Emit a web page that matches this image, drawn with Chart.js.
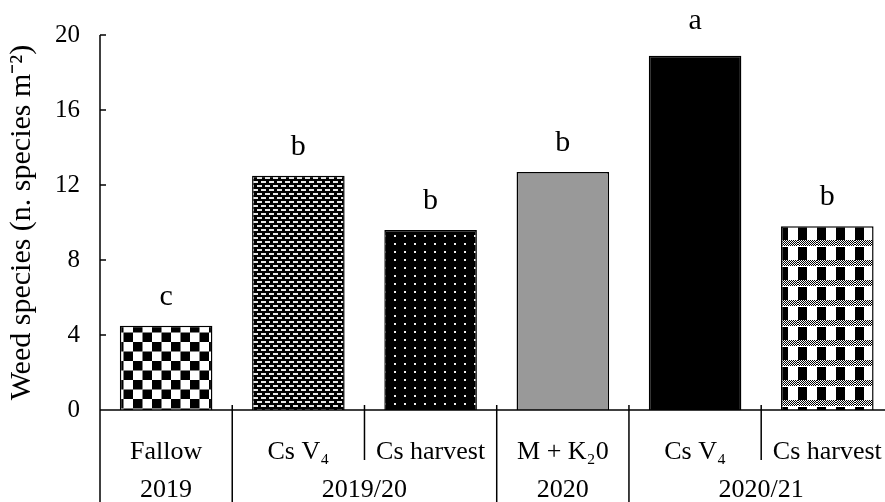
<!DOCTYPE html>
<html><head><meta charset="utf-8">
<script src="https://cdn.jsdelivr.net/npm/chart.js@4"></script>
<style>html,body{margin:0;padding:0;overflow:hidden;background:#fff}#wrap{width:909px;height:502px}</style>
</head><body><div id="wrap"><canvas id="c" width="909" height="502" style="width:909px;height:502px"></canvas></div>
<script>
const categories = ["Fallow", "Cs V\u2084", "Cs harvest", "M + K\u20820", "Cs V\u2084", "Cs harvest"];
const seasons = ["2019", "2019/20", "2019/20", "2020", "2020/21", "2020/21"];
const weedSpecies = [4.5, 12.5, 9.6, 12.7, 18.9, 9.8];
const letters = ["c", "b", "b", "b", "a", "b"];
const yMin = 0, yMax = 20, yStep = 4;
const yTitle = "Weed species (n. species m\u207B\u00B2)";

const FONT = "'Liberation Serif', 'Times New Roman', serif";

function tile(w, h, draw) {
  const c = document.createElement('canvas'); c.width = w; c.height = h;
  const g = c.getContext('2d'); draw(g);
  return document.getElementById('c').getContext('2d').createPattern(c, 'repeat');
}
const checker = tile(19, 19, g => { g.fillStyle = '#fff'; g.fillRect(0,0,19,19); g.fillStyle = '#000'; g.fillRect(0,0,9.5,9.5); g.fillRect(9.5,9.5,9.5,9.5); });
const dashes = tile(8, 8, g => { g.fillStyle = '#000'; g.fillRect(0,0,8,8); g.fillStyle = '#e8e8e8'; g.fillRect(1,1,5,2); g.fillRect(5,5,3,2); g.fillRect(0,5,2,2); });
const dots = tile(10, 8, g => { g.fillStyle = '#000'; g.fillRect(0,0,10,8); g.fillStyle = '#eee'; g.fillRect(4,3,2,2); });
const plaid = tile(19, 20, g => {
  g.fillStyle = '#fff'; g.fillRect(0,0,19,20);
  g.fillStyle = '#000';
  for (let yy = 0; yy < 6; yy++) for (let xx = 0; xx < 19; xx++) if ((xx + yy) % 2 === 0) g.fillRect(xx, yy, 1, 1);
  g.fillRect(0, 7, 9, 13);
});
const fills = [checker, dashes, dots, '#999999', '#000000', plaid];

function line(ctx, x1, y1, x2, y2) { ctx.beginPath(); ctx.moveTo(x1, y1); ctx.lineTo(x2, y2); ctx.stroke(); }

const decor = {
  id: 'decor',
  afterDatasetsDraw(chart) {
    const { ctx, chartArea: a, scales: { x, y } } = chart;
    ctx.save();
    ctx.strokeStyle = '#000'; ctx.lineWidth = 1.5;
    const top = y.getPixelForValue(yMax);
    line(ctx, a.left, top, a.left, chart.height);
    line(ctx, a.left, a.bottom, chart.width, a.bottom);
    for (let v = yMin + yStep; v <= yMax; v += yStep) {
      const py = y.getPixelForValue(v);
      line(ctx, a.left, py, a.left + 6, py);
    }
    for (let i = 1; i <= categories.length; i++) {
      const xb = i < categories.length ? (x.getPixelForValue(i - 1) + x.getPixelForValue(i)) / 2 : a.right;
      const long = i === categories.length || seasons[i] !== seasons[i - 1];
      line(ctx, xb, a.bottom - 5, xb, long ? chart.height : 460);
    }
    ctx.fillStyle = '#000';
    ctx.font = "26px " + FONT;
    ctx.textAlign = 'center'; ctx.textBaseline = 'middle';
    let s = 0;
    for (let i = 1; i <= seasons.length; i++) {
      if (i === seasons.length || seasons[i] !== seasons[s]) {
        const cx = (x.getPixelForValue(s) + x.getPixelForValue(i - 1)) / 2;
        ctx.fillText(seasons[s], cx, 490);
        s = i;
      }
    }
    ctx.font = "30px " + FONT;
    ctx.textBaseline = 'alphabetic';
    chart.getDatasetMeta(0).data.forEach((bar, i) => ctx.fillText(letters[i], bar.x, bar.y - (letters[i] === 'a' ? 27 : 21)));
    ctx.restore();
  }
};

new Chart(document.getElementById('c'), {
  type: 'bar',
  data: {
    labels: categories,
    datasets: [{ data: weedSpecies, backgroundColor: fills, borderColor: '#000', borderWidth: 1.5,
      categoryPercentage: 1, barPercentage: 0.7 }]
  },
  options: {
    responsive: false, animation: false, devicePixelRatio: 1,
    layout: { padding: { top: 35, right: 2, left: 0, bottom: 0 } },
    plugins: { legend: { display: false }, tooltip: { enabled: false } },
    scales: {
      x: {
        grid: { display: false, drawTicks: false, tickLength: 0 }, border: { display: false },
        ticks: { color: '#000', font: { family: FONT, size: 26 }, padding: 27, autoSkip: false, maxRotation: 0 },
        afterFit: s => { s.height = 92; }
      },
      y: {
        min: yMin, max: yMax,
        grid: { display: false, drawTicks: false, tickLength: 0 }, border: { display: false },
        ticks: { stepSize: yStep, color: '#000', font: { family: FONT, size: 25 }, padding: 20 },
        title: { display: true, text: yTitle, color: '#000', font: { family: FONT, size: 30 }, padding: { top: 4, bottom: 0 } },
        afterFit: s => { s.width = 100; }
      }
    }
  },
  plugins: [decor]
});
</script></body></html>
